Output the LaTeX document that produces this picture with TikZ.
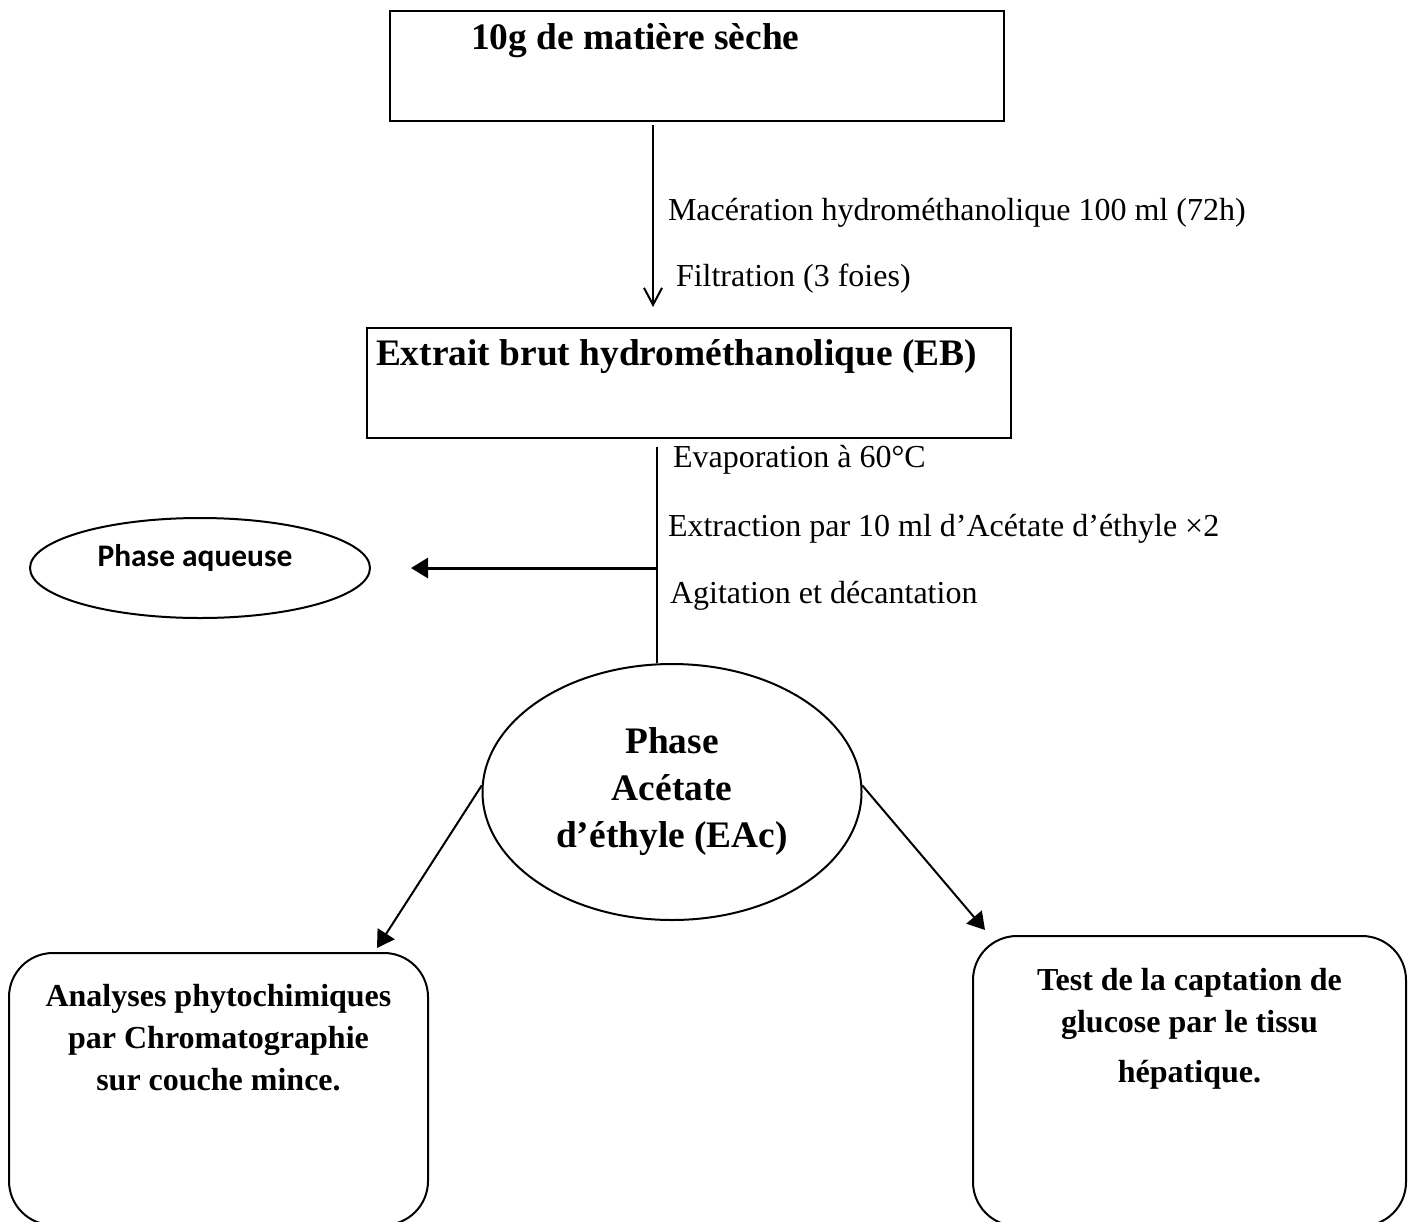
\documentclass[tikz,border=0pt]{standalone}
\usepackage{fontspec}
\setmainfont{Liberation Serif}
\newfontfamily\calibfont{Carlito}
\usetikzlibrary{arrows.meta,positioning,shapes.geometric}

\begin{document}
\begin{tikzpicture}[x=0.5pt, y=-0.5pt, line width=1pt,
        every node/.style={align=center, inner sep=0pt},
        stepbox/.style={draw, line width=1pt, anchor=north west},
        roundbox/.style={draw, line width=1pt, rounded corners=22pt, anchor=north west},
        titletext/.style={font=\fontsize{18.7}{23.5}\selectfont\bfseries},
        boxtext/.style={font=\fontsize{16}{21}\selectfont\bfseries},
        steptext/.style={font=\fontsize{16}{19}\selectfont, anchor=west},
        openarrow/.style={-{Straight Barb[length=8.5pt,width=9pt]}},
        fillarrow/.style={-{Triangle[length=8.5pt,width=10pt]}}]
        \useasboundingbox (0,0) rectangle (1413,1221);

        % dry matter and crude extract
        \node[stepbox, minimum width=307pt, minimum height=55pt] (dry) at (389,10) {};
        \node[titletext, anchor=base west] (drytxt) at (470,49) {10g de matière sèche};
        \node[stepbox, minimum width=322pt, minimum height=55pt] (crude) at (366,327) {};
        \node[titletext, anchor=base west] (crudetxt) at (375,365) {Extrait brut hydrométhanolique (EB)};

        \coordinate (mac) at (653,125);
        \coordinate (macend) at (653,307);
        \draw[openarrow] (mac) -- (macend);
        \node[steptext] (macera) at (667,213) {Macération hydrométhanolique 100 ml (72h)};
        \node[steptext] (filtr) at (675,279) {Filtration (3 foies)};

        % liquid-liquid extraction
        \node[draw, ellipse, minimum width=189.5pt, minimum height=128pt, titletext] (acet) at (672,792)
              {Phase\\Acétate\\d’éthyle (EAc)};
        \node[draw, ellipse, minimum width=170pt, minimum height=50pt] (aq) at (200,568) {};
        \node[font=\calibfont\fontsize{15.7}{18}\selectfont\bfseries] (aqtxt) at (195,558) {Phase aqueuse};

        \coordinate (evap) at (657,447);
        \coordinate (split) at (657,568);
        \draw (evap) -- (evap |- acet.north);
        \draw[fillarrow, line width=1.5pt] (split) -- ([xshift=20pt]aq.east);
        \node[steptext] (evaptxt) at (672,460) {Evaporation à 60°C};
        \node[steptext] (extrtxt) at (667,529) {Extraction par 10 ml d’Acétate d’éthyle ×2};
        \node[steptext] (agittxt) at (669,596) {Agitation et décantation};

        % analyses
        \node[roundbox, minimum width=209.5pt, minimum height=136pt] (chrom) at (8,952) {};
        \node[boxtext, below=15.5pt of chrom.north] (chromtxt)
              {Analyses phytochimiques\\par Chromatographie\\sur couche mince.};
        \node[roundbox, minimum width=216.5pt, minimum height=145pt] (test) at (972,935) {};
        \node[boxtext, below=16pt of test.north] (testtxt)
              {Test de la captation de\\glucose par le tissu\\[4pt]hépatique.};

        \draw[fillarrow] (acet.178) -- ([xshift=-26pt,yshift=2pt]chrom.north east);
        \draw[fillarrow] (acet.2) -- ([xshift=6.5pt,yshift=2.5pt]test.north west);
\end{tikzpicture}
\end{document}
